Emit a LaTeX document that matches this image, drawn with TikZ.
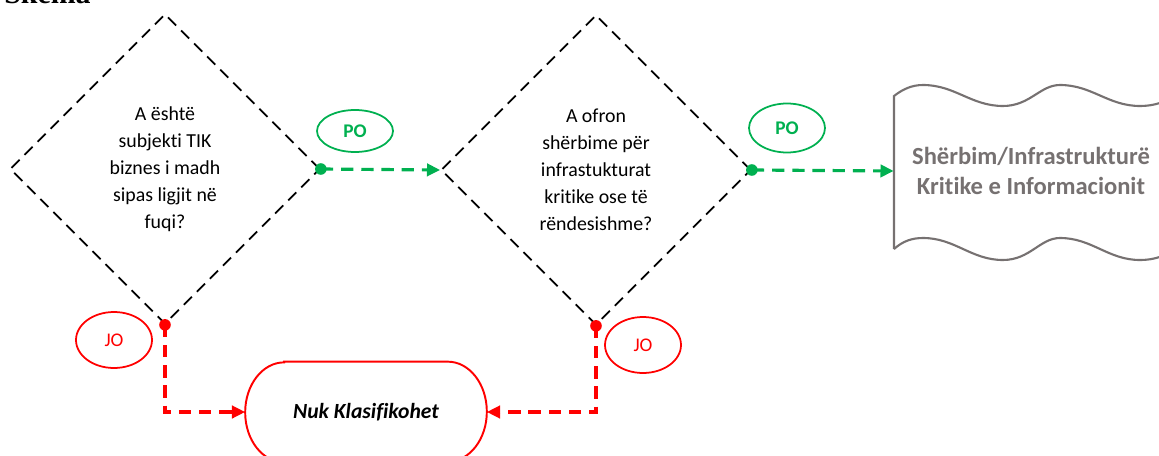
\documentclass[tikz,border=0pt]{standalone}
\usepackage{fontspec}
\setmainfont{Carlito}[Ligatures=NoCommon]
\newfontfamily\headfont{Liberation Serif}
\usetikzlibrary{arrows.meta, shapes.geometric, calc, positioning}
\definecolor{pogreen}{RGB}{0,176,80}
\definecolor{jored}{RGB}{255,0,0}
\definecolor{tapegray}{RGB}{118,113,113}

\begin{document}
\begin{tikzpicture}[x=0.02cm, y=-0.02cm,
	question/.style={diamond, draw, dash pattern=on 6.5pt off 4pt, line width=1pt,
		minimum width=6.2cm, minimum height=6.2cm, inner sep=0pt, align=center,
		font=\fontsize{11.3}{15.3}\selectfont},
	answer/.style={ellipse, draw, line width=1pt, minimum width=1.52cm,
		font=\fontsize{11}{13}\selectfont},
	flow/.style={line width=1.8pt, dash pattern=on 7pt off 4.5pt,
		-{Triangle[length=7.5pt,width=7pt]}}]
	\useasboundingbox (0,0) rectangle (1159,456);

	% heading, cut off by the page edge
	\node[anchor=base west, inner sep=0pt, font=\headfont\bfseries\fontsize{17}{19}\selectfont] (title) at (4,4) {Skema};

	% questions
	\node[question] (q1) at (165,169) {A është\\ subjekti TIK\\ biznes i madh\\ sipas ligjit në\\ fuqi?};
	\node[question] (q2) at (596,170) {A ofron\\ shërbime për\\ infrastukturat\\ kritike ose të\\ rëndesishme?};

	% results
	\node[text=tapegray, align=center, minimum width=5.48cm, minimum height=3cm,
		font=\fontsize{14}{17}\selectfont\bfseries] (kiib) at (1031,171) {Shërbim/Infrastrukturë\\ Kritike e Informacionit};
	\node[minimum width=4.82cm, minimum height=2cm,
		font=\fontsize{12.3}{14}\selectfont\bfseries\itshape] (nk) at (366,412) {Nuk Klasifikohet};

	\draw[tapegray, line width=1.2pt] (894,249) -- (894,96)
		.. controls (903,89) and (912,85) .. (923,85)
		.. controls (955,85) and (971,106) .. (1003,106)
		.. controls (1030,106) and (1040,85) .. (1060,85)
		.. controls (1092,85) and (1108,106) .. (1140,106)
		.. controls (1160,106) and (1170,98) .. (1180,94);
	\draw[tapegray, line width=1.2pt] (894,249)
		.. controls (903,241) and (912,238) .. (923,238)
		.. controls (955,238) and (971,260) .. (1003,260)
		.. controls (1030,260) and (1040,238) .. (1060,238)
		.. controls (1092,238) and (1108,260) .. (1140,260)
		.. controls (1160,260) and (1170,252) .. (1180,247);
	\draw[jored, line width=1.1pt] ([xshift=0.78cm]nk.north west) -- ([xshift=-0.78cm]nk.north east)
		arc[start angle=90, end angle=-90, x radius=0.78cm, y radius=1cm]
		-- ([xshift=0.78cm]nk.south west)
		arc[start angle=270, end angle=90, x radius=0.78cm, y radius=1cm] -- cycle;

	% answers
	\node[answer, draw=pogreen, text=pogreen, minimum height=0.84cm, font=\fontsize{11}{13}\selectfont\bfseries] (po1) at (355,131) {PO};
	\node[answer, draw=pogreen, text=pogreen, minimum height=0.98cm, font=\fontsize{11}{13}\selectfont\bfseries] (po2) at (787,128) {PO};
	\node[answer, draw=jored, text=jored, minimum height=1.12cm] (jo1) at (114,340) {JO};
	\node[answer, draw=jored, text=jored, minimum height=1.12cm] (jo2) at (643,345) {JO};

	% connectors
	\fill[pogreen] (q1.east) circle (3.3pt);
	\fill[pogreen] (q2.east) circle (3.3pt);
	\fill[jored] (q1.south) circle (3.3pt);
	\fill[jored] (q2.south) circle (3.3pt);
	\draw[flow, pogreen] (q1.east) -- (q2.west);
	\draw[flow, pogreen] (q2.east) -- (kiib.west);
	\draw[flow, jored] (q1.south) |- (nk.west);
	\draw[flow, jored] (q2.south) |- (nk.east);
\end{tikzpicture}
\end{document}
